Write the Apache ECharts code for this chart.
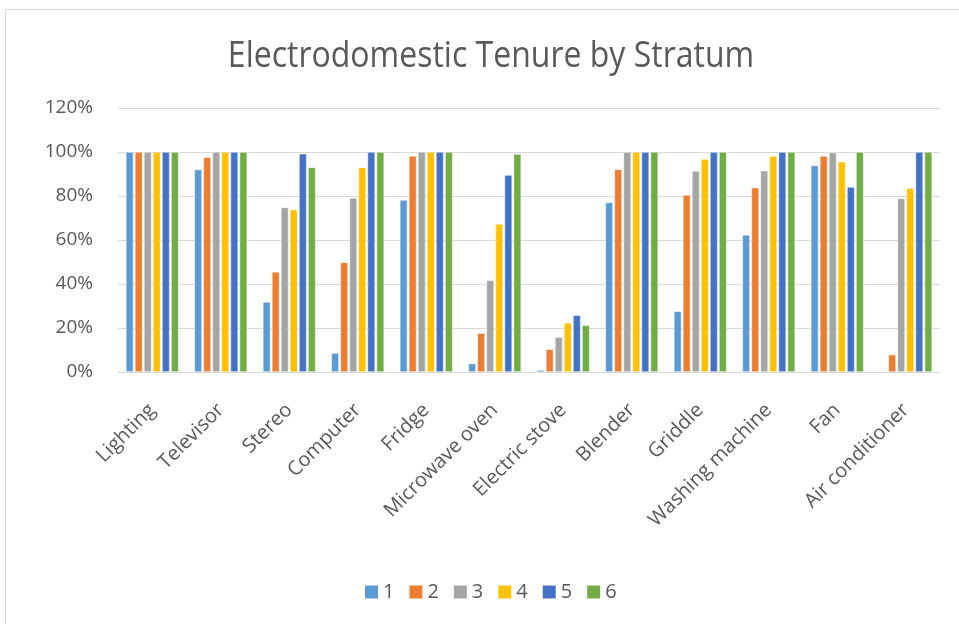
<!DOCTYPE html>
<html>
<head>
<meta charset="utf-8">
<script src="https://cdn.jsdelivr.net/npm/echarts@6/dist/echarts.min.js"></script>
<style>
html,body{margin:0;padding:0;background:#fff;}
#chart{width:959px;height:624px;}
</style>
</head>
<body>
<div id="chart"></div>
<script>
// appliance categories
var categories = ['Lighting','Televisor','Stereo','Computer','Fridge','Microwave oven','Electric stove','Blender','Griddle','Washing machine','Fan','Air conditioner'];

// tenure share per stratum (fractions)
var s1 = [1.00,0.92,0.318,0.086,0.782,0.038,0.009,0.771,0.276,0.623,0.939,null];
var s2 = [1.00,0.976,0.455,0.498,0.982,0.176,0.103,0.921,0.805,0.838,0.982,0.079];
var s3 = [1.00,1.00,0.748,0.791,1.00,0.417,0.158,1.00,0.914,0.915,0.998,0.789];
var s4 = [1.00,1.00,0.738,0.930,1.00,0.673,0.223,1.00,0.968,0.982,0.956,0.835];
var s5 = [1.00,1.00,0.992,1.00,1.00,0.895,0.258,1.00,1.00,1.00,0.841,1.00];
var s6 = [1.00,1.00,0.930,1.00,1.00,0.991,0.212,1.00,1.00,1.00,1.00,1.00];

var names = ['1','2','3','4','5','6'];
var colors = ['#5B9BD5','#ED7D31','#A5A5A5','#FFC000','#4472C4','#70AD47'];
var all = [s1,s2,s3,s4,s5,s6];

var series = all.map(function(d, i){
  return {
    name: names[i],
    type: 'bar',
    data: d,
    barGap: '20%',
    barCategoryGap: '23%',
    itemStyle: {color: colors[i], borderColor: '#fff', borderWidth: 0.5}
  };
});

var chart = echarts.init(document.getElementById('chart'));
chart.setOption({
  animation: false,
  legend: {
    bottom: 17,
    left: 360,
    itemWidth: 13,
    itemHeight: 13,
    itemGap: 15,
    icon: 'rect',
    itemStyle: {borderWidth: 0},
    textStyle: {fontFamily: 'Open Sans', fontSize: 20, color: '#595959'},
    data: names
  },
  grid: {left: 118, right: 19, top: 108, bottom: 252},
  xAxis: {
    type: 'category',
    data: categories,
    axisLine: {lineStyle: {color: '#d9d9d9', width: 1}},
    axisTick: {show: false},
    axisLabel: {rotate: 45, fontFamily: 'Open Sans', fontSize: 20, color: '#595959', margin: 35, interval: 0}
  },
  yAxis: {
    type: 'value',
    min: 0,
    max: 1.2,
    interval: 0.2,
    axisLine: {show: false},
    axisTick: {show: false},
    splitLine: {lineStyle: {color: '#d9d9d9', width: 1}},
    axisLabel: {
      fontFamily: 'Open Sans', fontSize: 19, color: '#595959', margin: 25,
      formatter: function(v){ return Math.round(v*100) + '%'; }
    }
  },
  graphic: [{
    type: 'rect',
    shape: {x: 5.5, y: 9.5, width: 960, height: 620},
    style: {fill: 'none', stroke: '#d9d9d9', lineWidth: 1},
    silent: true
  }, {
    // chart title, stretched a bit to mimic the condensed original font
    type: 'text',
    x: 491,
    y: 57,
    scaleY: 1.15,
    style: {
      text: 'Electrodomestic Tenure by Stratum',
      font: 'normal 32px "Open Sans"',
      fill: '#595959',
      align: 'center',
      verticalAlign: 'middle'
    },
    silent: true
  }],
  series: series
});
</script>
</body>
</html>
